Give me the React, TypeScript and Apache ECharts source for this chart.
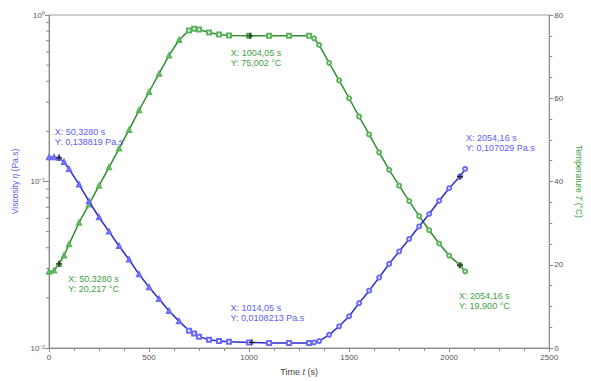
import React, { useEffect, useRef } from "react";
import * as echarts from "echarts";

// Time (s)
const time = [
  0, 25, 50, 75, 100, 150, 200, 250, 300, 350, 400, 450, 500, 550, 600, 650, 700, 725, 750, 800,
  850, 900, 1000, 1100, 1200, 1300, 1325, 1350, 1400, 1450, 1500, 1550, 1600, 1650, 1700, 1750,
  1800, 1850, 1900, 1950, 2000, 2054, 2080,
];
// Temperature T (°C)
const temperature = [
  18.3, 18.6, 20.2, 22.2, 24.9, 30.1, 34.5, 39.0, 43.4, 47.9, 52.4, 57.1, 61.5, 65.9, 70.3, 74.0,
  76.3, 76.7, 76.5, 75.8, 75.3, 75.1, 75.0, 75.0, 75.0, 75.0, 74.4, 72.8, 68.5, 64.3, 60.0, 55.6,
  51.3, 47.0, 42.8, 39.0, 35.3, 31.7, 28.3, 25.1, 22.2, 19.9, 18.4,
];
// Viscosity η (Pa.s)
const viscosity = [
  0.14, 0.14, 0.1388, 0.131, 0.119, 0.096, 0.076, 0.061, 0.05, 0.041, 0.034, 0.0277, 0.0232,
  0.0197, 0.0167, 0.0145, 0.0127, 0.0122, 0.0117, 0.0112, 0.011, 0.0109, 0.0108, 0.0107, 0.0107,
  0.0107, 0.0108, 0.011, 0.012, 0.0135, 0.0155, 0.0186, 0.0221, 0.0265, 0.032, 0.038, 0.0452,
  0.0537, 0.0638, 0.0767, 0.0912, 0.107, 0.119,
];
// Log-axis minor tick values
const logMinorTicks = [
  0.02, 0.03, 0.04, 0.05, 0.06, 0.07, 0.08, 0.09, 0.2, 0.3, 0.4, 0.5, 0.6, 0.7, 0.8, 0.9,
];
// Cursor annotations
const viscosityNotes = [
  { t: 50.328, v: 0.138819, lines: ["X: 50,3280 s", "Y: 0,138819 Pa.s"], pos: [-1.3, -27.9] },
  { t: 1014.05, v: 0.0108213, lines: ["X: 1014,05 s", "Y: 0,0108213 Pa.s"], pos: [-18.3, -36.2] },
  { t: 2054.16, v: 0.107029, lines: ["X: 2054,16 s", "Y: 0,107029 Pa.s"], pos: [9.1, -40.5] },
];
const temperatureNotes = [
  { t: 50.328, v: 20.217, lines: ["X: 50,3280 s", "Y: 20,217 °C"], pos: [12.2, 13.4] },
  { t: 1004.05, v: 75.002, lines: ["X: 1004,05 s", "Y: 75,002 °C"], pos: [-16.2, 15.4] },
  { t: 2054.16, v: 19.9, lines: ["X: 2054,16 s", "Y: 19,900 °C"], pos: [2.1, 29.1] },
];

const FONT = "'Liberation Sans', Arial, sans-serif";
const BLUE_LINE = "#2a2ad0";
const BLUE_MARK = "#6a6af8";
const BLUE_TEXT = "#5c5cf5";
const GREEN_LINE = "#2f8f2f";
const GREEN_MARK = "#5cb35c";
const GREEN_TEXT = "#3f9f3f";
const AXIS = "#8a8a8a";
const LABEL = "#555";

const SUP: Record<string, string> = { "-": "⁻", "0": "⁰", "1": "¹", "2": "²", "3": "³" };
const sup = (n: number) => String(n).split("").map((c) => SUP[c] || c).join("");

const CROSS = "path://M4,0H6V4H10V6H6V10H4V6H0V4H4Z";

const symbolFor = (v: number[]) =>
  v[0] < 700 ? "emptyTriangle" : v[0] <= 1300 ? "emptyRect" : "emptyCircle";

function notesMarkPoint(notes: typeof viscosityNotes, color: string) {
  return {
    symbol: CROSS,
    symbolSize: 6,
    silent: true,
    itemStyle: { color: "#222" },
    label: {
      show: true,
      color,
      fontSize: 9,
      lineHeight: 10,
      fontFamily: FONT,
      align: "left",
      verticalAlign: "top",
    },
    data: notes.map((n) => ({
      coord: [n.t, n.v],
      label: { position: n.pos, formatter: n.lines.join("\n") },
    })),
  };
}

export default function App() {
  const ref = useRef<HTMLDivElement>(null);
  useEffect(() => {
    if (!ref.current) return;
    const chart = echarts.init(ref.current, undefined, { renderer: "svg" });
    chart.setOption({
      animation: false,
      backgroundColor: "#fff",
      textStyle: { fontFamily: FONT },
      grid: {
        left: 49,
        right: 31,
        top: 15,
        bottom: 28,
        show: true,
        borderColor: "#a0a0a0",
        borderWidth: 1,
      },
      xAxis: {
        type: "value",
        min: 0,
        max: 2500,
        interval: 500,
        name: "Time {i|t} (s)",
        nameLocation: "middle",
        nameGap: 19,
        nameTextStyle: {
          color: "#444",
          fontSize: 9,
          fontFamily: FONT,
          rich: { i: { fontStyle: "italic", fontSize: 9, color: "#444", fontFamily: FONT } },
        },
        axisLine: { show: true, lineStyle: { color: AXIS } },
        axisTick: { show: true, length: 4, lineStyle: { color: AXIS } },
        minorTick: { show: true, splitNumber: 4, length: 3, lineStyle: { color: AXIS } },
        splitLine: { show: false },
        axisLabel: { color: LABEL, fontSize: 8, margin: 5, formatter: (v: number) => String(v) },
      },
      yAxis: [
        {
          type: "log",
          logBase: 10,
          min: 0.01,
          max: 1,
          position: "left",
          name: "Viscosity {i|η} (Pa.s)",
          nameLocation: "middle",
          nameRotate: 90,
          nameGap: 26,
          nameTextStyle: {
            color: BLUE_TEXT,
            fontSize: 8.5,
            fontFamily: FONT,
            rich: { i: { fontStyle: "italic", fontSize: 8.5, color: BLUE_TEXT, fontFamily: FONT } },
          },
          axisLine: { show: true, lineStyle: { color: AXIS } },
          axisTick: { show: true, length: 4, lineStyle: { color: AXIS } },
          splitLine: { show: false },
          axisLabel: {
            color: LABEL,
            fontSize: 8,
            margin: 4,
            formatter: (v: number) => "10" + sup(Math.round(Math.log10(v))),
          },
        },
        {
          type: "value",
          min: 0,
          max: 80,
          interval: 20,
          position: "right",
          name: "Temperature {i|T} (°C)",
          nameLocation: "middle",
          nameRotate: -90,
          nameGap: 21,
          nameTextStyle: {
            color: GREEN_TEXT,
            fontSize: 8.5,
            fontFamily: FONT,
            rich: { i: { fontStyle: "italic", fontSize: 8.5, color: GREEN_TEXT, fontFamily: FONT } },
          },
          axisLine: { show: true, lineStyle: { color: AXIS } },
          axisTick: { show: true, length: 4, lineStyle: { color: AXIS } },
          minorTick: { show: true, splitNumber: 4, length: 3, lineStyle: { color: AXIS } },
          splitLine: { show: false },
          axisLabel: { color: LABEL, fontSize: 8, margin: 5 },
        },
      ],
      series: [
        {
          type: "custom",
          xAxisIndex: 0,
          yAxisIndex: 0,
          silent: true,
          data: logMinorTicks.map((v) => [0, v]),
          renderItem: (_params: any, api: any) => {
            const p = api.coord([0, api.value(1)]);
            return {
              type: "line",
              shape: { x1: p[0] - 3, y1: p[1], x2: p[0], y2: p[1] },
              style: { stroke: AXIS, lineWidth: 1 },
            };
          },
        },
        {
          name: "Temperature",
          type: "line",
          yAxisIndex: 1,
          data: time.map((t, i) => [t, temperature[i]]),
          symbol: symbolFor,
          symbolSize: 4,
          showAllSymbol: true,
          lineStyle: { color: GREEN_LINE, width: 1.5 },
          itemStyle: { color: GREEN_MARK, borderWidth: 1 },
          z: 3,
          markPoint: notesMarkPoint(temperatureNotes, GREEN_TEXT),
        },
        {
          name: "Viscosity",
          type: "line",
          yAxisIndex: 0,
          data: time.map((t, i) => [t, viscosity[i]]),
          symbol: symbolFor,
          symbolSize: 4,
          showAllSymbol: true,
          lineStyle: { color: BLUE_LINE, width: 1.5 },
          itemStyle: { color: BLUE_MARK, borderWidth: 1 },
          z: 4,
          markPoint: notesMarkPoint(viscosityNotes, BLUE_TEXT),
        },
      ],
    });
    return () => chart.dispose();
  }, []);
  return (
    <div
      ref={ref}
      style={{ position: "fixed", left: 0, top: 0, width: 591, height: 381, background: "#fff" }}
    />
  );
}
